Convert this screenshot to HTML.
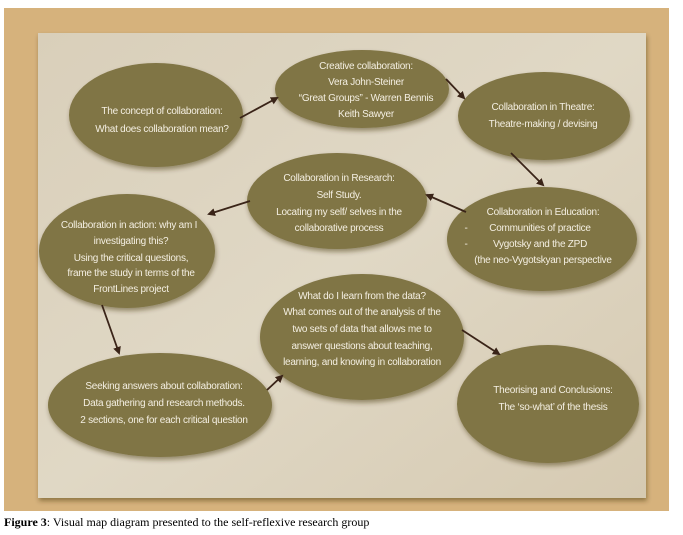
<!DOCTYPE html>
<html><head><meta charset="utf-8"><style>
html,body{margin:0;padding:0;background:#fff;}
svg{display:block;}
text{font-family:"Liberation Sans",sans-serif;font-size:10px;fill:#f4efe2;text-anchor:middle;letter-spacing:-0.25px;}
</style></head><body>
<svg width="683" height="535" viewBox="0 0 683 535" xmlns="http://www.w3.org/2000/svg">
<defs>
<filter id="sh" x="-20%" y="-20%" width="140%" height="150%"><feDropShadow dx="1" dy="3" stdDeviation="2.5" flood-color="#3a2a10" flood-opacity="0.45"/></filter>
<marker id="ah" markerWidth="8" markerHeight="8" refX="6" refY="4" orient="auto" markerUnits="userSpaceOnUse"><path d="M0,0 L8,4 L0,8 z" fill="#3a2418"/></marker>
<linearGradient id="pp" x1="0" y1="0" x2="1" y2="1"><stop offset="0" stop-color="#d9cfba"/><stop offset="0.5" stop-color="#e0d8c5"/><stop offset="1" stop-color="#d6cab2"/></linearGradient>
</defs>
<rect x="0" y="0" width="683" height="535" fill="#fff"/>
<rect x="4" y="8" width="665" height="503" fill="#d6b27c"/>
<rect x="38" y="33" width="608" height="465" fill="url(#pp)" filter="url(#sh)"/>
<g fill="#807444" filter="url(#sh)">
<ellipse cx="156" cy="115" rx="87" ry="52"/>
<ellipse cx="362" cy="89" rx="87" ry="39"/>
<ellipse cx="544" cy="116" rx="86" ry="44"/>
<ellipse cx="337" cy="201" rx="90" ry="48"/>
<ellipse cx="542" cy="239" rx="95" ry="52"/>
<ellipse cx="127" cy="251" rx="88" ry="57"/>
<ellipse cx="362" cy="337" rx="102" ry="63"/>
<ellipse cx="160" cy="405" rx="112" ry="52"/>
<ellipse cx="548" cy="404" rx="91" ry="59"/>
</g>
<g stroke="#3a2418" stroke-width="1.8" marker-end="url(#ah)">
<line x1="240" y1="118" x2="277" y2="98"/>
<line x1="446" y1="79" x2="464" y2="98"/>
<line x1="511" y1="153" x2="543" y2="185"/>
<line x1="466" y1="212" x2="427" y2="195"/>
<line x1="250" y1="201" x2="209" y2="214"/>
<line x1="102" y1="305" x2="119" y2="353"/>
<line x1="267" y1="390" x2="282" y2="376"/>
<line x1="462" y1="330" x2="499" y2="354"/>
</g>
<text x="162" y="114">The concept of collaboration:</text>
<text x="162" y="132">What does collaboration mean?</text>
<text x="366" y="69">Creative collaboration:</text>
<text x="366" y="85">Vera John-Steiner</text>
<text x="366" y="101">“Great Groups” - Warren Bennis</text>
<text x="366" y="117">Keith Sawyer</text>
<text x="543" y="110">Collaboration in Theatre:</text>
<text x="543" y="127">Theatre-making /  devising</text>
<text x="339" y="181">Collaboration in Research:</text>
<text x="339" y="198">Self Study.</text>
<text x="339" y="215">Locating my self/ selves in the</text>
<text x="339" y="231">collaborative process</text>
<text x="543" y="215">Collaboration in Education:</text>
<text x="466" y="231">-</text><text x="540" y="231">Communities of practice</text>
<text x="466" y="247">-</text><text x="540" y="247">Vygotsky and the ZPD</text>
<text x="543" y="263">(the neo-Vygotskyan perspective</text>
<text x="129" y="228">Collaboration in action: why am I</text>
<text x="131" y="244">investigating this?</text>
<text x="131" y="261">Using the critical questions,</text>
<text x="131" y="276">frame the study in terms of the</text>
<text x="131" y="292">FrontLines project</text>
<text x="362" y="299">What do I learn from the data?</text>
<text x="362" y="315">What comes out of the analysis of the</text>
<text x="362" y="332">two sets of data that allows me to</text>
<text x="362" y="349">answer questions about teaching,</text>
<text x="362" y="365">learning, and knowing in collaboration</text>
<text x="164" y="389">Seeking answers about collaboration:</text>
<text x="164" y="406">Data gathering  and research methods.</text>
<text x="164" y="423">2 sections, one for each critical question</text>
<text x="553" y="393">Theorising and Conclusions:</text>
<text x="553" y="410">The ‘so-what’ of the thesis</text>
<text x="4" y="526" style="font-family:'Liberation Serif',serif;font-size:12px;fill:#000;text-anchor:start;letter-spacing:0;"><tspan font-weight="bold">Figure 3</tspan>: Visual map diagram presented to the self-reflexive research group</text>
</svg>
</body></html>
